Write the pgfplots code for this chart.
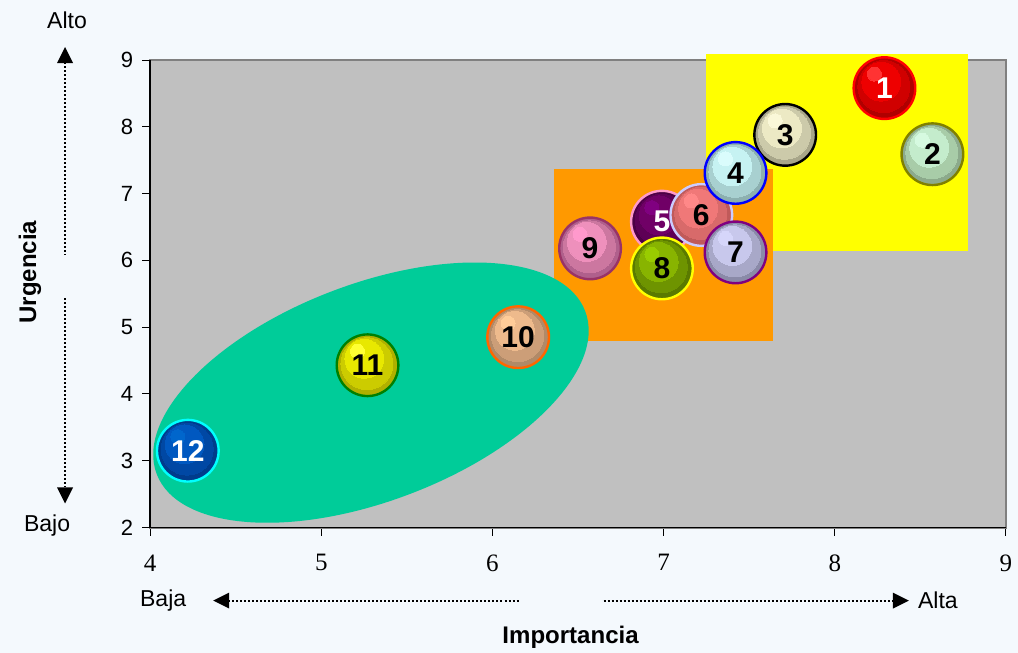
\documentclass[border=0pt]{standalone}
\usepackage{pgfplots}
\pgfplotsset{compat=1.18}
\usepackage{fontspec}
\setmainfont{Liberation Sans}
\newfontfamily\tnr{Liberation Serif}
\usetikzlibrary{arrows.meta,shapes.geometric}

\definecolor{bgc}{HTML}{F4F9FD}
\definecolor{plotbg}{HTML}{C0C0C0}
\definecolor{ellc}{HTML}{00CC99}
\definecolor{rectY}{HTML}{FFFF00}
\definecolor{rectO}{HTML}{FF9900}

% ball colours: id, border, outer, mid, inner, highlight, text
\newcommand{\ballcolors}[7]{%
  \definecolor{bd#1}{HTML}{#2}\definecolor{bo#1}{HTML}{#3}%
  \definecolor{bm#1}{HTML}{#4}\definecolor{bi#1}{HTML}{#5}%
  \definecolor{bh#1}{HTML}{#6}\definecolor{bt#1}{HTML}{#7}}
\ballcolors{1}{FF0000}{B00000}{D00000}{EE0000}{FF3333}{FFFFFF}
\ballcolors{2}{808000}{8CAA8C}{A8CCA8}{C4ECCC}{D6FAE0}{000000}
\ballcolors{3}{000000}{A8A68A}{CCCAAA}{ECE9C4}{FAF8D8}{000000}
\ballcolors{4}{0000FF}{8CB0B0}{A8D0D0}{C6F2F2}{DAFCFC}{000000}
\ballcolors{5}{FF99CC}{4C0044}{5E0056}{700066}{800080}{FFFFFF}
\ballcolors{6}{CCCCFF}{C05A5A}{D86A6A}{F07878}{FF8888}{000000}
\ballcolors{7}{800080}{8A8AA8}{A8A8C8}{C8C8EC}{D6D6FA}{000000}
\ballcolors{8}{FFFF00}{5A7A00}{6E9400}{88B400}{99CC00}{000000}
\ballcolors{9}{993366}{B0608C}{CC77A0}{EE90BC}{FF99CC}{000000}
\ballcolors{10}{FF6600}{B08A68}{CC9E78}{EEBA8C}{FFCC99}{000000}
\ballcolors{11}{008000}{B0B000}{CCCC00}{E8E800}{FFFF33}{000000}
\ballcolors{12}{00FFFF}{003C8C}{0048A4}{0058C0}{0066CC}{FFFFFF}

% one ball: x, y, id
\newcommand{\ball}[3]{%
  \addplot[only marks, mark=*, mark size=15.4pt,
    mark options={fill=bo#3, draw=bd#3, line width=1.2pt}] coordinates {(#1,#2)};
  \addplot[only marks, mark=*, mark size=13pt,
    mark options={fill=bm#3, draw=bm#3, line width=0pt, xshift=-0.3pt, yshift=0.8pt}] coordinates {(#1,#2)};
  \addplot[only marks, mark=*, mark size=9.7pt,
    mark options={fill=bi#3, draw=bi#3, line width=0pt, xshift=-1.6pt, yshift=3.2pt}] coordinates {(#1,#2)};
  \addplot[only marks, mark=*, mark size=3.5pt,
    mark options={fill=bh#3, draw=bh#3, line width=0pt, xshift=-5pt, yshift=7pt},
    nodes near coords={#3}, nodes near coords align=center,
    every node near coord/.style={font=\bfseries\fontsize{15}{17}\selectfont, text=bt#3,
      inner sep=0pt, xshift=5pt, yshift=-7pt}]
    coordinates {(#1,#2)};
}

\begin{document}
\begin{tikzpicture}
\fill[bgc] (-75pt,-62.5pt) rectangle (433.5pt,263.5pt);
\begin{axis}[
    at={(0,0)}, anchor=south west,
    scale only axis, width=427.5pt, height=233.5pt,
    xmin=4, xmax=9, ymin=2, ymax=9,
    xtick={4,5,6,7,8,9}, ytick={2,3,4,5,6,7,8,9},
    tick align=outside, major tick length=4pt,
    xtick pos=bottom, ytick pos=left,
    tick style={black, line width=0.5pt},
    axis line style={draw=gray, line width=1pt},
    axis background/.style={fill=plotbg},
    /pgf/number format/assume math mode=true,
    xticklabel style={font=\tnr\fontsize{12.5}{14}\selectfont, yshift=-6pt},
    yticklabel style={font=\fontsize{11}{13}\selectfont, xshift=-1pt},
    clip=false,
]
% highlighted zones
\addplot[fill=rectY, draw=none] coordinates {(7.25,6.14) (8.78,6.14) (8.78,9.09) (7.25,9.09)} -- cycle;
\addplot[fill=rectO, draw=none] coordinates {(6.36,4.79) (7.64,4.79) (7.64,7.37) (6.36,7.37)} -- cycle;
\node[ellipse, fill=ellc, inner sep=0pt, minimum width=229pt, minimum height=108.5pt, rotate=20.8]
  at (axis cs:5.29,4.02) {};

\ball{8.29}{8.58}{1}
\ball{8.57}{7.59}{2}
\ball{7.71}{7.88}{3}
\ball{6.99}{6.58}{5}
\ball{7.22}{6.68}{6}
\ball{7.42}{7.31}{4}
\ball{7.42}{6.12}{7}
\ball{6.99}{5.88}{8}
\ball{6.57}{6.18}{9}
\ball{6.15}{4.85}{10}
\ball{5.27}{4.43}{11}
\ball{4.22}{3.15}{12}

\draw[black, line width=0.8pt] (rel axis cs:0,1) -- (rel axis cs:0,0) -- (rel axis cs:1,0);
\end{axis}

% direction arrows and titles
\begin{scope}[font=\fontsize{11.5}{13}\selectfont]
\node at (-41.5pt,253.5pt) {Alto};
\node at (-51.5pt,1pt) {Bajo};
\node at (6.5pt,-36.5pt) {Baja};
\node at (393.5pt,-36.5pt) {Alta};
\end{scope}
\tikzset{dotln/.style={line width=1pt, dash pattern=on 1pt off 1pt}}
\draw[dotln] (-42.5pt,232.5pt) -- (-42.5pt,136pt);
\fill (-42.5pt,240pt) -- (-46.5pt,232pt) -- (-38.5pt,232pt) -- cycle;
\draw[dotln] (-42.5pt,114.5pt) -- (-42.5pt,20pt);
\fill (-42.5pt,12pt) -- (-46.5pt,20pt) -- (-38.5pt,20pt) -- cycle;
\draw[dotln] (39pt,-36.5pt) -- (185pt,-36.5pt);
\fill (31.5pt,-36.5pt) -- (39.5pt,-32.5pt) -- (39.5pt,-40.5pt) -- cycle;
\draw[dotln] (226.5pt,-36.5pt) -- (371pt,-36.5pt);
\fill (379pt,-36.5pt) -- (371pt,-32.5pt) -- (371pt,-40.5pt) -- cycle;
\node[font=\bfseries\fontsize{12}{14}\selectfont] at (210pt,-55pt) {Importancia};
\node[font=\bfseries\fontsize{12}{14}\selectfont, rotate=90] at (-60pt,127.5pt) {Urgencia};

\pgfresetboundingbox
\path (-75pt,-62.5pt) rectangle (433.5pt,263.5pt);
\end{tikzpicture}
\end{document}
